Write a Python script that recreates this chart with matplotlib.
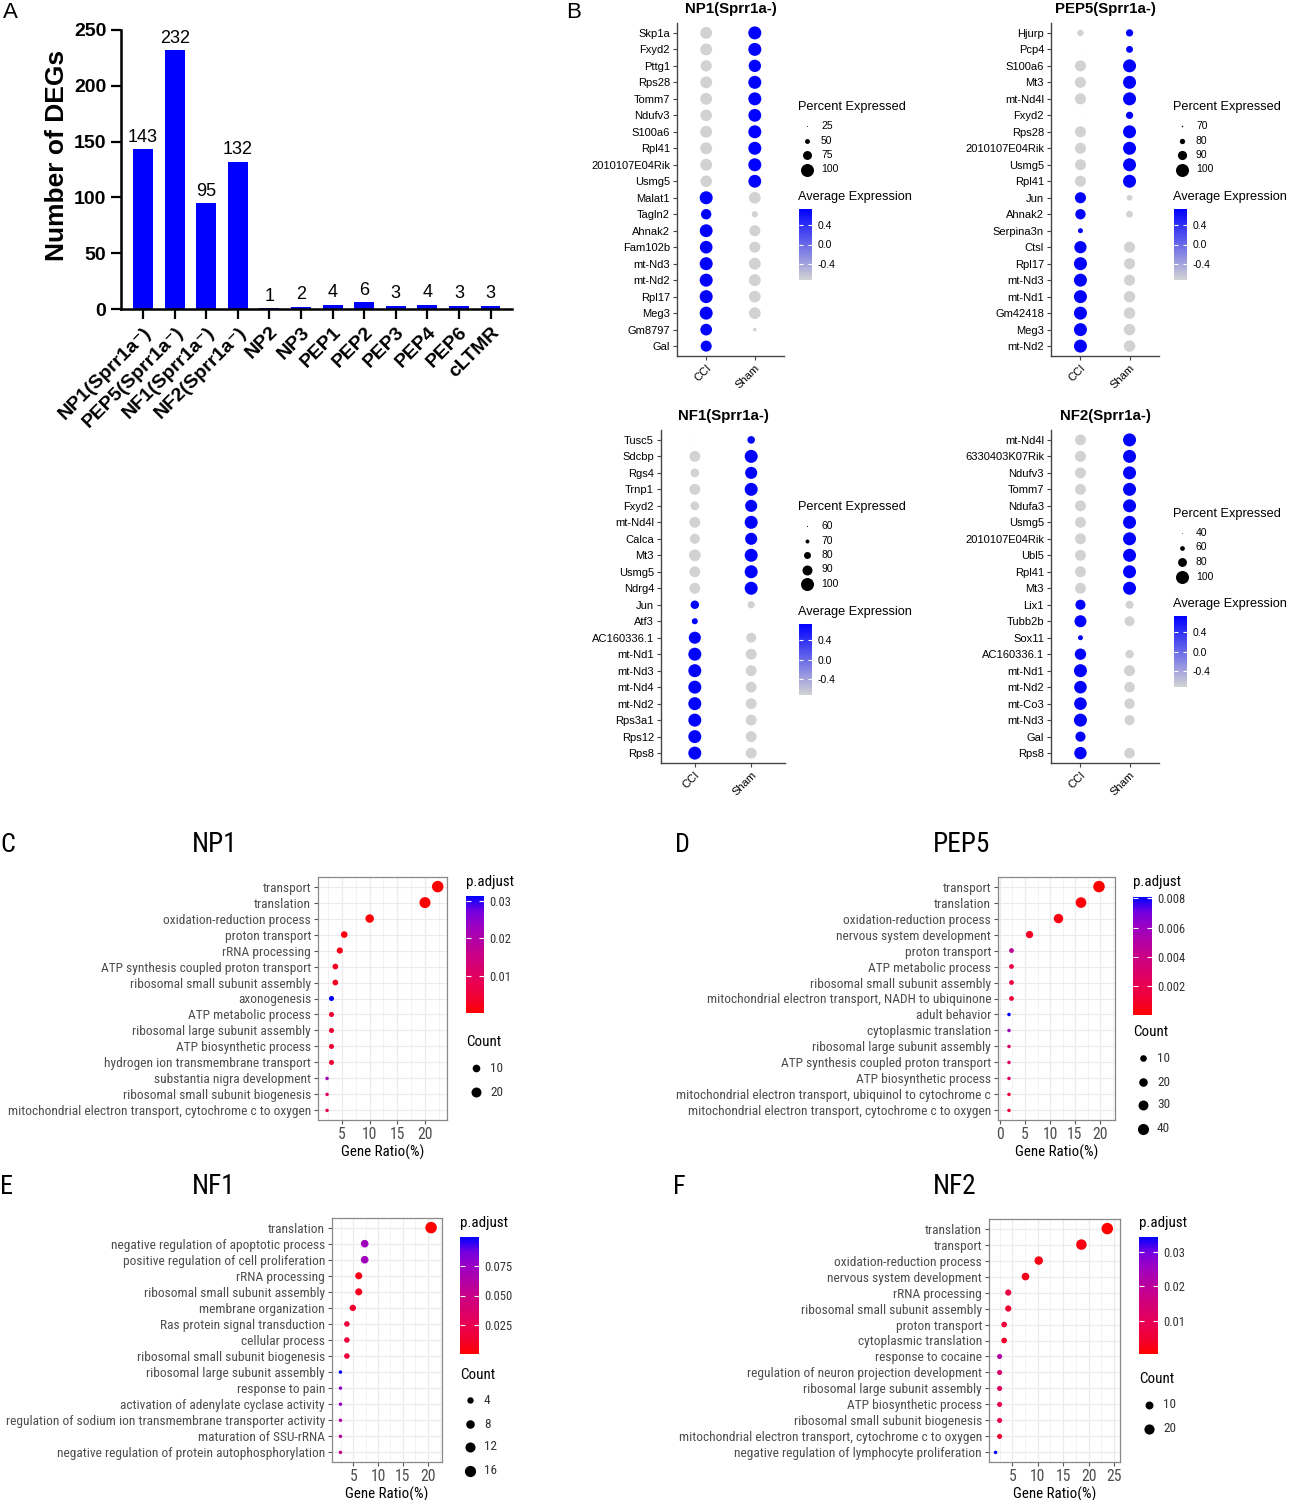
import numpy as np
import matplotlib
matplotlib.use('Agg')
import matplotlib.pyplot as plt
from matplotlib import font_manager
from matplotlib.font_manager import FontProperties
from matplotlib.cm import ScalarMappable
from matplotlib.colors import LinearSegmentedColormap, Normalize
from matplotlib.ticker import MultipleLocator

plt.rcParams['font.family'] = ['Liberation Sans', 'DejaVu Sans']

# ---------------- data ----------------
# A: number of DEGs per subtype
deg_groups = ['NP1(Sprr1a\u207b)', 'PEP5(Sprr1a\u207b)', 'NF1(Sprr1a\u207b)', 'NF2(Sprr1a\u207b)',
              'NP2', 'NP3', 'PEP1', 'PEP2', 'PEP3', 'PEP4', 'PEP6', 'cLTMR']
deg_counts = [143, 232, 95, 132, 1, 2, 4, 6, 3, 4, 3, 3]

# B: dot plots (percent expressed, scaled average expression)
conditions = ['CCI', 'Sham']

np1_genes = ['Skp1a', 'Fxyd2', 'Pttg1', 'Rps28', 'Tomm7', 'Ndufv3', 'S100a6', 'Rpl41', '2010107E04Rik', 'Usmg5',
             'Malat1', 'Tagln2', 'Ahnak2', 'Fam102b', 'mt-Nd3', 'mt-Nd2', 'Rpl17', 'Meg3', 'Gm8797', 'Gal']
np1_cci_pct = [93, 93, 89, 93, 93, 91, 93, 93, 93, 91, 100, 84, 99, 98, 100, 100, 100, 100, 92, 88]
np1_sham_pct = [100, 100, 96, 100, 100, 99, 100, 100, 100, 99, 92, 58, 88, 88, 93, 93, 92, 92, 42, 21]
np1_cci_avg = [-0.71, -0.71, -0.71, -0.71, -0.71, -0.71, -0.71, -0.71, -0.71, -0.71,
               0.71, 0.71, 0.71, 0.71, 0.71, 0.71, 0.71, 0.71, 0.71, 0.71]
np1_sham_avg = [0.71, 0.71, 0.71, 0.71, 0.71, 0.71, 0.71, 0.71, 0.71, 0.71,
                -0.71, -0.71, -0.71, -0.71, -0.71, -0.71, -0.71, -0.71, -0.71, -0.71]

pep5_genes = ['Hjurp', 'Pcp4', 'S100a6', 'Mt3', 'mt-Nd4l', 'Fxyd2', 'Rps28', '2010107E04Rik', 'Usmg5', 'Rpl41',
              'Jun', 'Ahnak2', 'Serpina3n', 'Ctsl', 'Rpl17', 'mt-Nd3', 'mt-Nd1', 'Gm42418', 'Meg3', 'mt-Nd2']
pep5_cci_pct = [83, 68, 95, 95, 95, 68, 95, 95, 95, 95, 95, 93, 79, 98, 100, 100, 100, 100, 100, 100]
pep5_sham_pct = [85, 84, 100, 100, 100, 85, 100, 100, 100, 100, 81, 84, 66, 95, 95, 95, 96, 96, 96, 96]
pep5_cci_avg = [-0.71, -0.71, -0.71, -0.71, -0.71, -0.71, -0.71, -0.71, -0.71, -0.71,
                0.71, 0.71, 0.71, 0.71, 0.71, 0.71, 0.71, 0.71, 0.71, 0.71]
pep5_sham_avg = [0.71, 0.71, 0.71, 0.71, 0.71, 0.71, 0.71, 0.71, 0.71, 0.71,
                 -0.71, -0.71, -0.71, -0.71, -0.71, -0.71, -0.71, -0.71, -0.71, -0.71]

nf1_genes = ['Tusc5', 'Sdcbp', 'Rgs4', 'Trnp1', 'Fxyd2', 'mt-Nd4l', 'Calca', 'Mt3', 'Usmg5', 'Ndrg4',
             'Jun', 'Atf3', 'AC160336.1', 'mt-Nd1', 'mt-Nd3', 'mt-Nd4', 'mt-Nd2', 'Rps3a1', 'Rps12', 'Rps8']
nf1_cci_pct = [60, 93, 86, 93, 86, 93, 90, 96, 93, 93, 85, 77, 97, 100, 100, 100, 100, 100, 100, 100]
nf1_sham_pct = [82, 100, 97, 100, 97, 100, 97, 100, 100, 100, 81, 57, 90, 93, 93, 93, 93, 93, 93, 93]
nf1_cci_avg = [-0.71, -0.71, -0.71, -0.71, -0.71, -0.71, -0.71, -0.71, -0.71, -0.71,
               0.71, 0.71, 0.71, 0.71, 0.71, 0.71, 0.71, 0.71, 0.71, 0.71]
nf1_sham_avg = [0.71, 0.71, 0.71, 0.71, 0.71, 0.71, 0.71, 0.71, 0.71, 0.71,
                -0.71, -0.71, -0.71, -0.71, -0.71, -0.71, -0.71, -0.71, -0.71, -0.71]

nf2_genes = ['mt-Nd4l', '6330403K07Rik', 'Ndufv3', 'Tomm7', 'Ndufa3', 'Usmg5', '2010107E04Rik', 'Ubl5', 'Rpl41', 'Mt3',
             'Lix1', 'Tubb2b', 'Sox11', 'AC160336.1', 'mt-Nd1', 'mt-Nd2', 'mt-Co3', 'mt-Nd3', 'Gal', 'Rps8']
nf2_cci_pct = [90, 90, 90, 90, 90, 90, 90, 90, 90, 90, 86, 95, 61, 92, 100, 98, 98, 100, 86, 97]
nf2_sham_pct = [100, 100, 100, 100, 100, 100, 100, 100, 100, 100, 76, 85, 37, 78, 90, 88, 88, 86, 38, 88]
nf2_cci_avg = [-0.71, -0.71, -0.71, -0.71, -0.71, -0.71, -0.71, -0.71, -0.71, -0.71,
               0.71, 0.71, 0.71, 0.71, 0.71, 0.71, 0.71, 0.71, 0.71, 0.71]
nf2_sham_avg = [0.71, 0.71, 0.71, 0.71, 0.71, 0.71, 0.71, 0.71, 0.71, 0.71,
                -0.71, -0.71, -0.71, -0.71, -0.71, -0.71, -0.71, -0.71, -0.71, -0.71]

# C-F: GO enrichment
np1_terms = ['transport', 'translation', 'oxidation-reduction process', 'proton transport', 'rRNA processing',
             'ATP synthesis coupled proton transport', 'ribosomal small subunit assembly', 'axonogenesis',
             'ATP metabolic process', 'ribosomal large subunit assembly', 'ATP biosynthetic process',
             'hydrogen ion transmembrane transport', 'substantia nigra development',
             'ribosomal small subunit biogenesis', 'mitochondrial electron transport, cytochrome c to oxygen']
np1_ratio = [22.3, 20.0, 10.0, 5.4, 4.6, 3.8, 3.8, 3.1, 3.1, 3.1, 3.1, 3.1, 2.3, 2.3, 2.3]
np1_count = [29, 26, 13, 7, 6, 5, 5, 4, 4, 4, 4, 4, 3, 3, 3]
np1_padj = [0.0002, 0.0001, 0.0005, 0.001, 0.002, 0.003, 0.003, 0.0313, 0.004, 0.004, 0.004, 0.004,
            0.022, 0.010, 0.008]

pep5_terms = ['transport', 'translation', 'oxidation-reduction process', 'nervous system development',
              'proton transport', 'ATP metabolic process', 'ribosomal small subunit assembly',
              'mitochondrial electron transport, NADH to ubiquinone', 'adult behavior', 'cytoplasmic translation',
              'ribosomal large subunit assembly', 'ATP synthesis coupled proton transport',
              'ATP biosynthetic process', 'mitochondrial electron transport, ubiquinol to cytochrome c',
              'mitochondrial electron transport, cytochrome c to oxygen']
pep5_ratio = [19.8, 16.2, 11.7, 5.9, 2.3, 2.3, 2.3, 2.3, 1.8, 1.8, 1.8, 1.8, 1.8, 1.8, 1.8]
pep5_count = [44, 36, 26, 13, 5, 5, 5, 5, 4, 4, 4, 4, 4, 4, 4]
pep5_padj = [0.00003, 0.0002, 0.0004, 0.0008, 0.0045, 0.0018, 0.0015, 0.0012, 0.0081, 0.0060, 0.0030,
             0.0025, 0.0025, 0.0015, 0.0015]

nf1_terms = ['translation', 'negative regulation of apoptotic process', 'positive regulation of cell proliferation',
             'rRNA processing', 'ribosomal small subunit assembly', 'membrane organization',
             'Ras protein signal transduction', 'cellular process', 'ribosomal small subunit biogenesis',
             'ribosomal large subunit assembly', 'response to pain', 'activation of adenylate cyclase activity',
             'regulation of sodium ion transmembrane transporter activity', 'maturation of SSU-rRNA',
             'negative regulation of protein autophosphorylation']
nf1_ratio = [20.7, 7.3, 7.3, 6.1, 6.1, 4.9, 3.7, 3.7, 3.7, 2.4, 2.4, 2.4, 2.4, 2.4, 2.4]
nf1_count = [17, 6, 6, 5, 5, 4, 3, 3, 3, 2, 2, 2, 2, 2, 2]
nf1_padj = [0.0004, 0.072, 0.072, 0.006, 0.008, 0.012, 0.018, 0.018, 0.018, 0.0996, 0.080, 0.078,
            0.062, 0.058, 0.050]

nf2_terms = ['translation', 'transport', 'oxidation-reduction process', 'nervous system development',
             'rRNA processing', 'ribosomal small subunit assembly', 'proton transport', 'cytoplasmic translation',
             'response to cocaine', 'regulation of neuron projection development',
             'ribosomal large subunit assembly', 'ATP biosynthetic process', 'ribosomal small subunit biogenesis',
             'mitochondrial electron transport, cytochrome c to oxygen',
             'negative regulation of lymphocyte proliferation']
nf2_ratio = [23.7, 18.6, 10.2, 7.6, 4.2, 4.2, 3.4, 3.4, 2.5, 2.5, 2.5, 2.5, 2.5, 2.5, 1.7]
nf2_count = [28, 22, 12, 9, 5, 5, 4, 4, 3, 3, 3, 3, 3, 3, 2]
nf2_padj = [0.0004, 0.002, 0.002, 0.003, 0.007, 0.005, 0.006, 0.004, 0.021, 0.013, 0.011, 0.009,
            0.009, 0.005, 0.0343]

# ---------------- setup ----------------
W, H = 1312, 1500
fig = plt.figure(figsize=(W / 100, H / 100), dpi=100)


# the GO plots use a narrow sans face; look for any condensed one that is installed
def find_narrow():
    best = None
    for f in font_manager.fontManager.ttflist:
        name = f.name
        narrow = ('Narrow' in name or 'Condensed' in name or
                  str(f.stretch) in ('condensed', 'semi-condensed', 'extra-condensed', '75', '87', '62'))
        if not narrow or 'Mono' in name or 'Serif' in name:
            continue
        if f.style != 'normal' or f.weight not in (400, 'normal', 'regular'):
            continue
        score = 0 if 'Liberation' in name else (1 if 'Roboto' in name else 2)
        if best is None or score < best[0]:
            best = (score, f.fname)
    return best[1] if best else None


narrow_path = find_narrow()


def base_font(size):
    if narrow_path:
        return FontProperties(fname=narrow_path, size=size)
    return FontProperties(family='Liberation Sans', size=size)


# scale GO text so the longest term is as wide as in the original (~300 px)
_probe = fig.text(0, 0, 'mitochondrial electron transport, cytochrome c to oxygen', fontproperties=base_font(10.3))
_w = _probe.get_window_extent(renderer=fig.canvas.get_renderer()).width
_probe.remove()
GS = 300.0 / _w


def gofont(size):
    return base_font(size * GS)


def px_axes(x0, y0, x1, y1, **kw):
    return fig.add_axes([x0 / W, 1 - y1 / H, (x1 - x0) / W, (y1 - y0) / H], **kw)


ov = fig.add_axes([0, 0, 1, 1], zorder=10)
ov.set_xlim(0, W)
ov.set_ylim(H, 0)
ov.axis('off')

lg_blue = LinearSegmentedColormap.from_list('lg_blue', ['#D3D3D3', '#0000FF'])
avg_norm = Normalize(-0.72, 0.72)
go_cmap = LinearSegmentedColormap.from_list(
    'red_blue_lab', [(0, '#FF0000'), (0.125, '#F10031'), (0.25, '#E90050'), (0.5, '#C90088'),
                     (0.75, '#9B00C3'), (0.875, '#7300E0'), (1, '#0000FF')])

# ---------------- panel A ----------------
axA = px_axes(121, 30, 512, 309)
xa = np.arange(len(deg_groups))
axA.bar(xa, deg_counts, width=0.63, color='#0000FF')
for xi, v in zip(xa, deg_counts):
    axA.text(xi, v + 3, str(v), ha='center', va='bottom', fontsize=13)
axA.set_xlim(-0.7, 11.68)
axA.set_ylim(0, 250)
axA.spines[['top', 'right']].set_visible(False)
for s in ('left', 'bottom'):
    axA.spines[s].set_linewidth(1.8)
axA.set_yticks([0, 50, 100, 150, 200, 250])
axA.tick_params(axis='both', width=1.6, length=7, labelsize=14)
for lab in axA.get_yticklabels():
    lab.set_fontweight('bold')
axA.set_xticks(xa)
axA.set_xticklabels(deg_groups, rotation=45, ha='right', rotation_mode='anchor',
                    fontweight='bold', fontsize=14)
ov.text(57, 155, 'Number of DEGs', rotation=90, fontsize=19, fontweight='bold', ha='center', va='center')
ov.text(3, 13, 'A', fontsize=16, va='center')
ov.text(566, 12, 'B', fontsize=16, va='center')


# ---------------- panel B ----------------
def dot_area(p, pmin):
    d = np.clip(13.0 * (np.asarray(p, float) - pmin) / (100 - pmin), 0, None)
    return (d * 0.72) ** 2


def dot_panel(genes, cci_pct, sham_pct, cci_avg, sham_avg, pmin, breaks, title, lay):
    ax = px_axes(*lay['box'])
    n = len(genes)
    yy = np.arange(n, 0, -1)
    for xi, pct, avg in ((1, cci_pct, cci_avg), (2, sham_pct, sham_avg)):
        ax.scatter(np.full(n, xi), yy, s=dot_area(pct, pmin), c=avg, cmap=lg_blue, norm=avg_norm,
                   linewidths=0)
    ax.set_xlim(0.4, 2.6)
    ax.set_ylim(0.4, n + 0.6)
    ax.spines[['top', 'right']].set_visible(False)
    for s in ('left', 'bottom'):
        ax.spines[s].set_color('#444444')
        ax.spines[s].set_linewidth(1.0)
    ax.set_yticks(yy)
    ax.set_yticklabels(genes, fontsize=8)
    ax.set_xticks([1, 2])
    ax.set_xticklabels(conditions, rotation=45, ha='right', rotation_mode='anchor', fontsize=8)
    ax.tick_params(length=3, color='#444444', pad=2)
    x0, y0, x1, y1 = lay['box']
    ov.text((x0 + x1) / 2, lay['title_y'], title, fontsize=10.8, fontweight='bold', ha='center', va='center')
    lx, ly = lay['leg']
    ov.text(lx, ly, 'Percent Expressed', fontsize=9.2, va='center')
    for i, b in enumerate(breaks):
        yb = ly + 19 + i * 14.5
        ov.scatter(lx + 9, yb, s=dot_area(b, pmin), c='black', linewidths=0)
        ov.text(lx + 23, yb, str(b), fontsize=7.5, va='center')
    ay = lay['avg_y']
    ov.text(lx, ay, 'Average Expression', fontsize=9.2, va='center')
    cax = px_axes(lx + 1, ay + 12, lx + 14, ay + 83)
    cb = fig.colorbar(ScalarMappable(norm=avg_norm, cmap=lg_blue), cax=cax)
    cb.outline.set_visible(False)
    cb.set_ticks([-0.4, 0.0, 0.4])
    cb.set_ticklabels(['-0.4', '0.0', '0.4'])
    cax.tick_params(direction='in', length=3, color='white', width=0.8, left=True, right=True,
                    labelsize=7.5, pad=4)


dot_panel(np1_genes, np1_cci_pct, np1_sham_pct, np1_cci_avg, np1_sham_avg, 20, [25, 50, 75, 100],
          'NP1(Sprr1a-)', {'box': (677, 23, 784, 356), 'title_y': 9, 'leg': (798, 107), 'avg_y': 197})
dot_panel(pep5_genes, pep5_cci_pct, pep5_sham_pct, pep5_cci_avg, pep5_sham_avg, 66, [70, 80, 90, 100],
          'PEP5(Sprr1a-)', {'box': (1051, 23, 1159, 356), 'title_y': 9, 'leg': (1173, 107), 'avg_y': 197})
dot_panel(nf1_genes, nf1_cci_pct, nf1_sham_pct, nf1_cci_avg, nf1_sham_avg, 57, [60, 70, 80, 90, 100],
          'NF1(Sprr1a-)', {'box': (661, 430, 785, 763), 'title_y': 416, 'leg': (798, 507), 'avg_y': 612})
dot_panel(nf2_genes, nf2_cci_pct, nf2_sham_pct, nf2_cci_avg, nf2_sham_avg, 37, [40, 60, 80, 100],
          'NF2(Sprr1a-)', {'box': (1051, 430, 1159, 763), 'title_y': 416, 'leg': (1173, 514), 'avg_y': 604})


# ---------------- panels C-F ----------------
def go_area(c, cmin, cmax):
    d = 3.5 + 8.0 * np.sqrt((np.asarray(c, float) - cmin) / (cmax - cmin))
    return (d * 0.72) ** 2


def go_panel(terms, ratio, counts, padj, lay):
    ax = px_axes(*lay['box'])
    n = len(terms)
    yy = np.arange(n, 0, -1)
    norm = Normalize(min(padj), max(padj))
    cmin, cmax = min(counts), max(counts)
    ax.scatter(ratio, yy, s=go_area(counts, cmin, cmax), c=padj, cmap=go_cmap, norm=norm,
               linewidths=0, zorder=3)
    ax.set_ylim(0.4, n + 0.6)
    ax.set_xlim(*lay['xlim'])
    ax.set_yticks(yy)
    ax.set_yticklabels(terms)
    ax.set_xticks(lay['xticks'])
    ax.xaxis.set_minor_locator(MultipleLocator(2.5))
    ax.grid(True, which='major', color='#EBEBEB', lw=0.9)
    ax.grid(True, which='minor', axis='x', color='#F0F0F0', lw=0.6)
    ax.set_axisbelow(True)
    ax.tick_params(which='major', length=3, color='#555555', labelcolor='#4D4D4D', pad=2)
    ax.tick_params(which='minor', length=0)
    for lab in ax.get_yticklabels():
        lab.set_fontproperties(gofont(10.3))
    for lab in ax.get_xticklabels():
        lab.set_fontproperties(gofont(12.0))
    for s in ax.spines.values():
        s.set_color('#888888')
        s.set_linewidth(0.9)
    ax.set_xlabel('Gene Ratio(%)', fontproperties=gofont(11.5), labelpad=2)
    ov.text(lay['title'][0], lay['title'][1], lay['name'], fontproperties=gofont(21),
            ha='center', va='center')
    ov.text(lay['letter'][0], lay['letter'][1], lay['tag'], fontproperties=gofont(20), va='center')
    px, py = lay['ptitle']
    ov.text(px, py, 'p.adjust', fontproperties=gofont(11.5), va='center')
    cx0, cy0, cx1, cy1 = lay['cbar']
    cax = px_axes(cx0, cy0, cx1, cy1)
    cb = fig.colorbar(ScalarMappable(norm=norm, cmap=go_cmap), cax=cax)
    cb.outline.set_visible(False)
    cb.set_ticks(lay['cticks'])
    cb.set_ticklabels(lay['clabels'])
    cax.tick_params(direction='in', length=3.5, color='white', width=0.8, left=True, right=True,
                    labelcolor='#333333', pad=4)
    for lab in cax.get_yticklabels():
        lab.set_fontproperties(gofont(9.6))
    tx, ty = lay['ctitle']
    ov.text(tx, ty, 'Count', fontproperties=gofont(11.5), va='center')
    for b, yb in zip(lay['cbreaks'], lay['cys']):
        ov.scatter(tx + 10, yb, s=go_area(b, cmin, cmax), c='black', linewidths=0)
        ov.text(tx + 24, yb, str(b), fontproperties=gofont(10.2), va='center', color='#333333')


go_panel(np1_terms, np1_ratio, np1_count, np1_padj,
         {'box': (318, 877, 447, 1120), 'xlim': (0.66, 23.98), 'xticks': [5, 10, 15, 20],
          'name': 'NP1', 'title': (215, 845), 'tag': 'C', 'letter': (0, 845),
          'ptitle': (466, 882), 'cbar': (466, 896, 484, 1013),
          'cticks': [0.01, 0.02, 0.03], 'clabels': ['0.01', '0.02', '0.03'],
          'ctitle': (466, 1042), 'cbreaks': [10, 20], 'cys': [1068, 1092]})
go_panel(pep5_terms, pep5_ratio, pep5_count, pep5_padj,
         {'box': (998, 877, 1115, 1120), 'xlim': (-0.4, 23.0), 'xticks': [0, 5, 10, 15, 20],
          'name': 'PEP5', 'title': (962, 845), 'tag': 'D', 'letter': (675, 845),
          'ptitle': (1133, 882), 'cbar': (1133, 897, 1152, 1015),
          'cticks': [0.002, 0.004, 0.006, 0.008], 'clabels': ['0.002', '0.004', '0.006', '0.008'],
          'ctitle': (1133, 1032), 'cbreaks': [10, 20, 30, 40], 'cys': [1058, 1082, 1105, 1129]})
go_panel(nf1_terms, nf1_ratio, nf1_count, nf1_padj,
         {'box': (332, 1218, 442, 1462), 'xlim': (0.7, 22.9), 'xticks': [5, 10, 15, 20],
          'name': 'NF1', 'title': (214, 1187), 'tag': 'E', 'letter': (0, 1187),
          'ptitle': (460, 1223), 'cbar': (460, 1237, 479, 1354),
          'cticks': [0.025, 0.05, 0.075], 'clabels': ['0.025', '0.050', '0.075'],
          'ctitle': (460, 1375), 'cbreaks': [4, 8, 12, 16], 'cys': [1400, 1424, 1447, 1471]})
go_panel(nf2_terms, nf2_ratio, nf2_count, nf2_padj,
         {'box': (989, 1219, 1120, 1462), 'xlim': (0.41, 26.2), 'xticks': [5, 10, 15, 20, 25],
          'name': 'NF2', 'title': (955, 1187), 'tag': 'F', 'letter': (673, 1187),
          'ptitle': (1139, 1223), 'cbar': (1139, 1237, 1158, 1354),
          'cticks': [0.01, 0.02, 0.03], 'clabels': ['0.01', '0.02', '0.03'],
          'ctitle': (1139, 1379), 'cbreaks': [10, 20], 'cys': [1405, 1429]})

fig.savefig('out.png', dpi=100)
